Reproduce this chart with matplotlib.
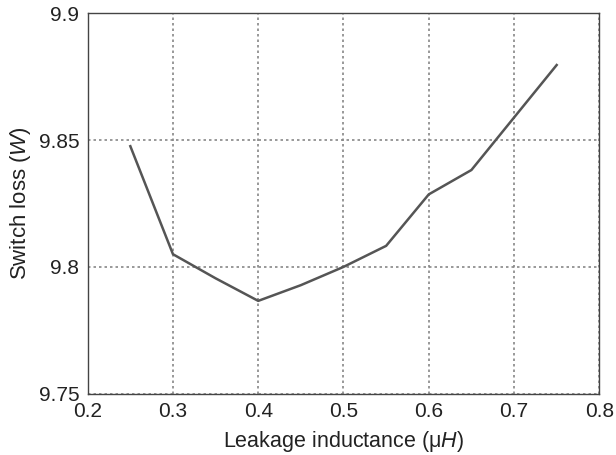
import matplotlib
matplotlib.use("Agg")
import matplotlib.pyplot as plt

inductance = [0.25, 0.30, 0.35, 0.40, 0.45, 0.50, 0.55, 0.60, 0.65, 0.70, 0.75]
switch_loss = [9.8476, 9.8050, 9.7955, 9.7866, 9.7928, 9.8000, 9.8083, 9.8286, 9.8382, 9.8589, 9.8796]
xticks = [0.2, 0.3, 0.4, 0.5, 0.6, 0.7, 0.8]
xticklabels = ["0.2", "0.3", "0.4", "0.5", "0.6", "0.7", "0.8"]
yticks = [9.75, 9.8, 9.85, 9.9]
yticklabels = ["9.75", "9.8", "9.85", "9.9"]

plt.rcParams['font.family'] = ['Liberation Sans', 'DejaVu Sans']
plt.rcParams['mathtext.fontset'] = 'custom'
plt.rcParams['mathtext.rm'] = 'Liberation Sans'
plt.rcParams['mathtext.it'] = 'Liberation Sans:italic'

fig = plt.figure(figsize=(6.16, 4.55), dpi=100)
ax = fig.add_axes([87.7/616, 1 - 393.7/455, (599.3 - 87.7)/616, (393.7 - 13.3)/455])

ax.plot(inductance, switch_loss, color='#555555', linewidth=1.8)

ax.set_xlim(0.2, 0.8)
ax.set_ylim(9.75, 9.9)
ax.set_xticks(xticks)
ax.set_xticklabels(xticklabels)
ax.set_yticks(yticks)
ax.set_yticklabels(yticklabels)
ax.tick_params(axis='both', length=0, labelsize=15, colors='#222222')
ax.tick_params(axis='x', pad=6)
ax.tick_params(axis='y', pad=6)
ax.grid(True, color='#888888', linewidth=1.2, linestyle=(0, (1.5, 1.8)))
for s in ax.spines.values():
    s.set_color('#444444')
    s.set_linewidth(1.0)
    s.set_zorder(3)

ax.set_xlabel('Leakage inductance (\u03bc$H$)', fontsize=15.5, color='#222222', labelpad=6)
ax.set_ylabel('Switch loss ($W$)', fontsize=16, color='#222222', labelpad=4)

fig.savefig('out.png', dpi=100)
